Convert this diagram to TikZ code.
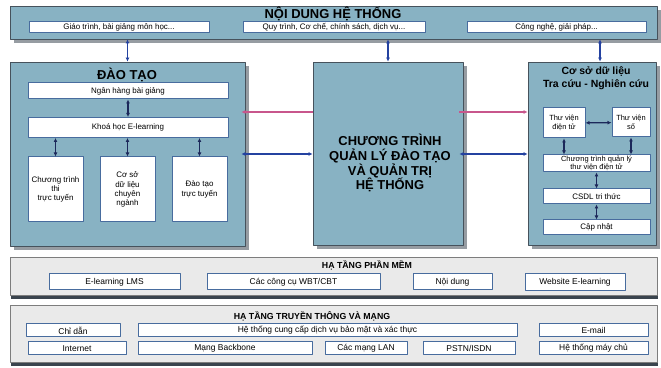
\documentclass[tikz,border=0pt]{standalone}
\usepackage{fontspec}
\setmainfont{Liberation Sans}
\usetikzlibrary{arrows.meta,shadows}
\definecolor{panelblue}{RGB}{136,178,195}
\definecolor{panelline}{RGB}{70,82,92}
\definecolor{shadowgray}{RGB}{150,156,162}
\definecolor{layergray}{RGB}{234,234,234}
\definecolor{layerline}{RGB}{125,125,125}
\definecolor{layershadow}{RGB}{58,68,78}
\definecolor{itemline}{RGB}{72,108,158}
\definecolor{linkdark}{RGB}{28,40,90}
\definecolor{linkblue}{RGB}{36,66,160}
\definecolor{linkpink}{RGB}{200,86,140}
\begin{document}
\begin{tikzpicture}[>={Latex[length=4bp,width=4bp]},line join=bevel,
  panel/.style={draw=panelline,fill=panelblue,line width=0.8bp,
    drop shadow={shadow xshift=4bp,shadow yshift=-4bp,fill=shadowgray,opacity=1}},
  layer/.style={draw=layerline,fill=layergray,line width=0.8bp,
    drop shadow={shadow xshift=1bp,shadow yshift=-4bp,fill=layershadow,opacity=1}},
  item/.style={draw=itemline,fill=white,line width=1bp,inner sep=0pt,align=center,
    font=\fontsize{8}{9.3}\selectfont},
  infra/.style={item,font=\fontsize{8.5}{9}\selectfont},
  bigtitle/.style={font=\fontsize{13}{15}\selectfont\bfseries,align=center},
  smalltitle/.style={font=\fontsize{8.8}{10}\selectfont\bfseries},
  link/.style={<->,draw=linkdark,line width=1.3bp},
  toplink/.style={<->,draw=linkblue,line width=1.5bp},
  pinklink/.style={draw=linkpink,line width=1.2bp},
  bluelink/.style={<->,draw=linkblue,line width=1.2bp},
]
\useasboundingbox (0bp,0bp) rectangle (661bp,368bp);
%%
  % Node: NoiDung
  \node[panel,minimum width=647bp,minimum height=33bp] (noidung) at (333.5bp,345.5bp) {};
  \node[bigtitle] (noidungtitle) at (333bp,354bp) {NỘI DUNG HỆ THỐNG};
  \node[item,minimum width=180bp,minimum height=11bp] (giaotrinh) at (119bp,340.5bp) {Giáo trình, bài giảng môn học...};
  \node[item,minimum width=182bp,minimum height=11bp] (quytrinh) at (334bp,340.5bp) {Quy trình, Cơ chế, chính sách, dịch vụ...};
  \node[item,minimum width=179bp,minimum height=11bp] (congnghe) at (556.5bp,340.5bp) {Công nghệ, giải pháp...};
  % Node: DaoTao
  \node[panel,minimum width=235bp,minimum height=184bp] (daotao) at (127.5bp,214bp) {};
  \node[bigtitle] (daotaotitle) at (127bp,293bp) {ĐÀO TẠO};
  \node[item,minimum width=200bp,minimum height=16bp] (nganhang) at (128bp,277bp) {Ngân hàng bài giảng};
  \node[item,minimum width=200bp,minimum height=20bp] (khoahoc) at (128bp,240.5bp) {Khoá học E-learning};
  \node[item,minimum width=55bp,minimum height=65bp] (thi) at (55.5bp,178.5bp) {Chương trình\\thi\\trực tuyến};
  \node[item,minimum width=55bp,minimum height=65bp] (csdlcn) at (127.5bp,178.5bp) {Cơ sở\\dữ liệu\\chuyên\\ngành};
  \node[item,minimum width=55bp,minimum height=65bp] (dttt) at (199.5bp,178.5bp) {Đào tạo\\trực tuyến};
  % Node: QuanLy
  \node[panel,minimum width=150bp,minimum height=183bp] (ctql) at (388bp,214.5bp) {};
  \node[bigtitle] (ctqltitle) at (390bp,205bp) {CHƯƠNG TRÌNH\\QUẢN LÝ ĐÀO TẠO\\VÀ QUẢN TRỊ\\HỆ THỐNG};
  % Node: CoSoDuLieu
  \node[panel,minimum width=128bp,minimum height=183bp] (csdl) at (592bp,214.5bp) {};
  \node[font=\fontsize{10.5}{13}\selectfont\bfseries,align=center] (csdltitle) at (596bp,289.5bp) {Cơ sở dữ liệu\\Tra cứu - Nghiên cứu};
  \node[item,font=\fontsize{7.5}{9}\selectfont,minimum width=42bp,minimum height=30bp] (tvdt) at (564bp,245bp) {Thư viện\\điện tử};
  \node[item,font=\fontsize{7.5}{9}\selectfont,minimum width=38bp,minimum height=29bp] (tvso) at (631bp,245.5bp) {Thư viện\\số};
  \node[item,font=\fontsize{7.5}{8}\selectfont,minimum width=107bp,minimum height=17bp] (ctqltv) at (596.5bp,204.5bp) {Chương trình quản lý\\thư viện điện tử};
  \node[item,minimum width=107bp,minimum height=15bp] (csdltt) at (596.5bp,171.5bp) {CSDL tri thức};
  \node[item,minimum width=107bp,minimum height=15bp] (capnhat) at (596.5bp,140.5bp) {Cập nhật};
  % Node: PhanMem
  \node[layer,minimum width=647bp,minimum height=38bp] (phanmem) at (333.5bp,92bp) {};
  \node[smalltitle] (phanmemtitle) at (367bp,103bp) {HẠ TẦNG PHẦN MỀM};
  \node[infra,minimum width=131bp,minimum height=16bp] (lms) at (114.5bp,86bp) {E-learning LMS};
  \node[infra,minimum width=173bp,minimum height=16bp] (wbt) at (293.5bp,86bp) {Các công cụ WBT/CBT};
  \node[infra,minimum width=79bp,minimum height=16bp] (noidungbox) at (452.5bp,86bp) {Nội dung};
  \node[infra,minimum width=100bp,minimum height=17bp] (website) at (575bp,86bp) {Website E-learning};
  % Node: TruyenThong
  \node[layer,minimum width=647bp,minimum height=57bp] (truyenthong) at (333.5bp,34.5bp) {};
  \node[smalltitle] (truyenthongtitle) at (312bp,52bp) {HẠ TẦNG TRUYỀN THÔNG VÀ MẠNG};
  \node[infra,minimum width=94bp,minimum height=13bp] (chidan) at (73bp,37.5bp) {Chỉ dẫn};
  \node[infra,minimum width=379bp,minimum height=13bp] (baomat) at (327.5bp,37.5bp) {Hệ thống cung cấp dịch vụ bảo mật và xác thực};
  \node[infra,minimum width=109bp,minimum height=13bp] (email) at (593.5bp,37.5bp) {E-mail};
  \node[infra,minimum width=98bp,minimum height=13bp] (internet) at (77bp,19.5bp) {Internet};
  \node[infra,minimum width=174bp,minimum height=13bp] (backbone) at (225bp,19.5bp) {Mạng Backbone};
  \node[infra,minimum width=82bp,minimum height=13bp] (lan) at (366bp,19.5bp) {Các mạng LAN};
  \node[infra,minimum width=92bp,minimum height=13bp] (pstn) at (469bp,19.5bp) {PSTN/ISDN};
  \node[infra,minimum width=109bp,minimum height=13bp] (maychu) at (593.5bp,19.5bp) {Hệ thống máy chủ};
%%
  \coordinate (pinklevel) at (0bp,256bp);
  \coordinate (bluelevel) at (0bp,214bp);
  \coordinate (csdltop) at ([xshift=8bp]csdl.north);
  % Edge: NoiDung -> DaoTao, QuanLy, CoSoDuLieu
  \draw[toplink] (noidung.south -| daotao.north) -- (daotao.north);
  \draw[toplink] (noidung.south -| ctql.north) -- (ctql.north);
  \draw[toplink] (noidung.south -| csdltop) -- (csdltop);
  % Edge: QuanLy -> DaoTao
  \draw[pinklink,->,shorten >=-4bp] (ctql.west |- pinklevel) -- (daotao.east |- pinklevel);
  \draw[bluelink,shorten <=-4bp] (daotao.east |- bluelevel) -- (ctql.west |- bluelevel);
  % Edge: QuanLy -> CoSoDuLieu
  \draw[pinklink,->,shorten <=-4bp] (ctql.east |- pinklevel) -- (csdl.west |- pinklevel);
  \draw[bluelink,shorten <=-4bp] (ctql.east |- bluelevel) -- (csdl.west |- bluelevel);
  % Edge: inside DaoTao
  \draw[link] (nganhang) -- (khoahoc);
  \draw[link] (khoahoc.south -| thi.north) -- (thi.north);
  \draw[link] (khoahoc.south -| csdlcn.north) -- (csdlcn.north);
  \draw[link] (khoahoc.south -| dttt.north) -- (dttt.north);
  % Edge: inside CoSoDuLieu
  \draw[link] (tvdt) -- (tvso);
  \draw[link] (tvdt) -- (ctqltv.north -| tvdt);
  \draw[link] (tvso) -- (ctqltv.north -| tvso);
  \draw[link] (ctqltv) -- (csdltt);
  \draw[link] (csdltt) -- (capnhat);
%
\end{tikzpicture}
\end{document}
